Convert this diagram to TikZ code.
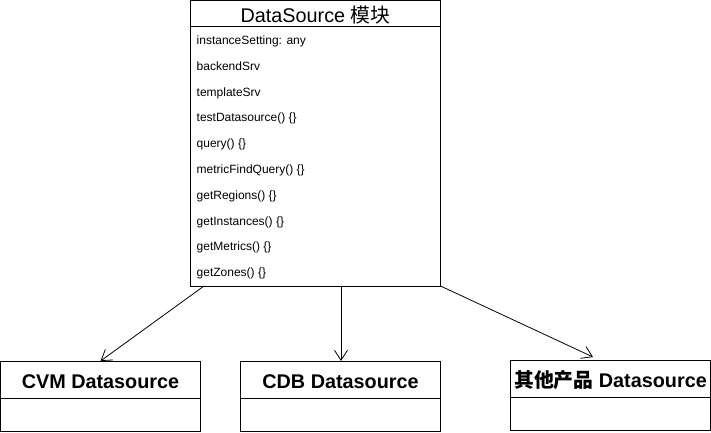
\documentclass[tikz,border=0pt]{standalone}
\usepackage{fontspec}
\setmainfont{Liberation Sans}
\newfontfamily\cjk{Noto Sans CJK SC}
\usetikzlibrary{arrows.meta,calc}
\begin{document}
\begin{tikzpicture}[x=1pt,y=-1pt,
  box/.style={draw=black, line width=1pt, fill=white, inner sep=0pt, outer sep=0pt, anchor=north west},
  row/.style={anchor=base west, inner sep=0pt, font=\fontsize{12}{14}\selectfont},
  ttl/.style={anchor=base, inner sep=0pt, font=\fontsize{19.8}{22}\selectfont},
  btl/.style={anchor=base, inner sep=0pt, font=\bfseries\fontsize{19.8}{22}\selectfont},
  sep/.style={draw=black, line width=1pt},
  link/.style={draw=black, line width=0.8pt, -{Straight Barb[length=10pt,width=13pt,line width=0.8pt]}}]
\useasboundingbox (0,0) rectangle (711,432);
% top class box
\node[box, minimum width=250pt, minimum height=285.5pt] (ds) at (190.5,0.5) {};
\draw[sep] ($(ds.north west)+(0,26)$) -- ($(ds.north east)+(0,26)$);
\node[ttl] (dst) at (315.5,22) {DataSource {\cjk 模块}};
\foreach \t [count=\i from 0] in {instanceSetting: any, backendSrv, templateSrv, testDatasource() \{\}, query() \{\}, metricFindQuery() \{\}, getRegions() \{\}, getInstances() \{\}, getMetrics() \{\}, getZones() \{\}}{
  \node[row] (r\i) at (196.5,{44.5+25.8*\i}) {\t};
}
% bottom boxes
\node[box, minimum width=200pt, minimum height=70pt] (cvm) at (0.5,361) {};
\draw[sep] ($(cvm.north west)+(0,37)$) -- ($(cvm.north east)+(0,37)$);
\node[btl] (cvmt) at (100.5,388) {CVM Datasource};
\node[box, minimum width=200pt, minimum height=70pt] (cdb) at (240.5,361) {};
\draw[sep] ($(cdb.north west)+(0,37)$) -- ($(cdb.north east)+(0,37)$);
\node[btl] (cdbt) at (340.5,388) {CDB Datasource};
\node[box, minimum width=200pt, minimum height=70pt] (oth) at (510.5,360) {};
\draw[sep] ($(oth.north west)+(0,37)$) -- ($(oth.north east)+(0,37)$);
\node[btl] (otht) at (610.5,387) {{\cjk\bfseries 其他产品} Datasource};
% connectors
\coordinate (ds1) at ($(ds.south west)!0.054!(ds.south east)$);
\coordinate (ds2) at ($(ds.south west)!0.602!(ds.south east)$);
\coordinate (othin) at (593,357);
\draw[link] (ds1) -- (cvm.north);
\draw[link] (ds2) -- (ds2 |- cdb.north);
\draw[link] (ds.south east) -- (othin);
\end{tikzpicture}
\end{document}
